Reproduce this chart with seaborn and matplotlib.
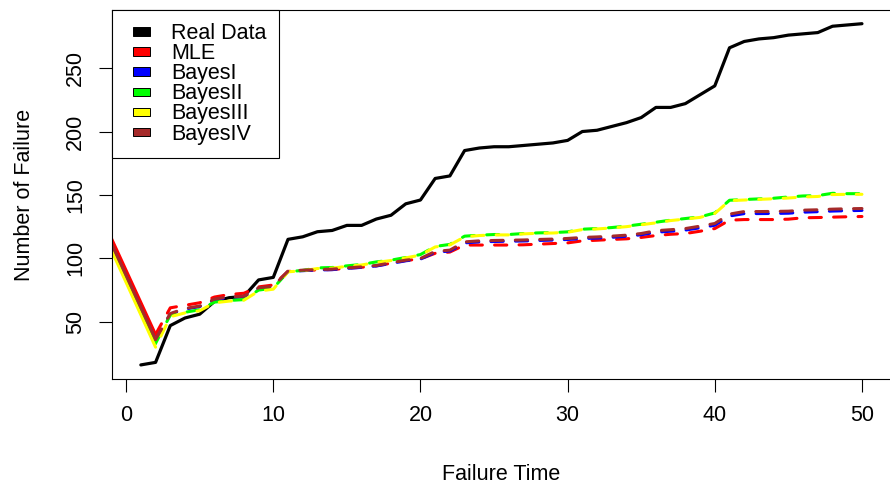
import matplotlib
matplotlib.use("Agg")
import matplotlib.pyplot as plt
import numpy as np
import pandas as pd
import seaborn as sns
from matplotlib.patches import Patch, Rectangle
from matplotlib.legend_handler import HandlerPatch

# ---------------- data ----------------
time = list(range(1, 51))
real_data = [16, 18, 47, 53, 56, 66, 69, 70, 83, 85,
             115, 117, 121, 122, 126, 126, 131, 134, 143, 146,
             163, 165, 185, 187, 188, 188, 189, 190, 191, 193,
             200, 201, 204, 207, 211, 219, 219, 222, 229, 236,
             266, 271, 273, 274, 276, 277, 278, 283, 284, 285]

model_time = [-2] + list(range(2, 51))
mle = [141, 40, 61, 63, 65, 69.5, 71.5, 72.5, 77.5, 79,
       89.7, 90.4, 90.9, 91.2, 92.2, 93, 94.1, 96.2, 98.3, 99.6,
       104, 105, 110.5, 110.5, 110.5, 110.5, 110.7, 111.2, 111.7, 112.2,
       113.8, 114.3, 114.9, 115.4, 116.5, 118, 119, 119.6, 121.4, 123.5,
       130.1, 130.6, 130.6, 130.6, 130.9, 132, 132.2, 132.5, 132.8, 133]
bayes1 = [136, 35.5, 56, 60, 62, 67.4, 69.2, 69.7, 76.3, 77.5,
          89.6, 90.3, 90.8, 91.1, 92.1, 92.9, 94, 96, 98.1, 99.4,
          104.8, 105.8, 112.2, 113, 113.3, 113.5, 113.7, 114.1, 114.4, 114.9,
          115.6, 116, 116.6, 117.4, 118.6, 120.6, 121.4, 122.3, 124.1, 126.1,
          133.4, 135.3, 135.3, 135.4, 135.6, 136.4, 136.8, 137.3, 137.6, 137.8]
bayes2 = [133, 33, 55.3, 57.5, 59.5, 65.5, 66.8, 67.5, 75, 76.5,
          89.5, 90.5, 92.5, 92.8, 94.1, 95.2, 97.2, 98.6, 100.7, 103,
          109.4, 111, 117.5, 118.3, 118.8, 118.8, 119.6, 120.1, 120.3, 120.9,
          123, 123.5, 124.3, 125.4, 126.9, 128.5, 130.1, 131.4, 132.7, 135.8,
          145.8, 146.4, 146.9, 147.4, 148.4, 149.2, 149.5, 151.3, 151, 151]
bayes3 = [132, 30, 54, 57, 58.7, 65, 66.3, 67, 74.2, 75.7,
          89.4, 90.2, 92, 92.3, 93.7, 94.8, 96.8, 98.3, 100.4, 102.6,
          109, 110.6, 117, 118, 118.5, 118.5, 119.3, 119.8, 120, 120.6,
          122.7, 123.2, 124, 125, 126.5, 128, 129.8, 131, 132.3, 135.4,
          145.5, 146, 146.5, 147, 147.6, 148.4, 148.8, 150.3, 150.5, 150.5]
bayes4 = [137, 36, 56.5, 60.5, 62.4, 67.9, 69.7, 70.2, 76.8, 78,
          90, 90.7, 91.2, 91.5, 92.5, 93.3, 94.4, 96.5, 98.6, 99.9,
          105.5, 106.5, 113, 113.8, 114.1, 114.3, 114.5, 114.9, 115.2, 115.7,
          116.5, 116.9, 117.5, 118.3, 119.6, 121.8, 122.6, 123.5, 125.4, 127.5,
          134.9, 136.9, 136.9, 137, 137.2, 138, 138.3, 138.8, 139.1, 139.3]

legend_labels = ["Real Data", "MLE", "BayesI", "BayesII", "BayesIII", "BayesIV"]
colors = ["black", "#FF0000", "#0000FF", "#00FF00", "#FFFF00", "#A52A2A"]
x_ticks = [0, 10, 20, 30, 40, 50]
y_ticks = [50, 100, 150, 200, 250]

# ---------------- figure ----------------
sns.set_style("white")
plt.rcParams["font.family"] = ["Liberation Sans", "DejaVu Sans"]
plt.rcParams["text.color"] = "black"
plt.rcParams["axes.labelcolor"] = "black"
plt.rcParams["xtick.color"] = "black"
plt.rcParams["ytick.color"] = "black"

W, H = 890, 488
fig = plt.figure(figsize=(W / 100, H / 100), dpi=100)
ax = fig.add_axes([112 / W, (H - 379) / H, 778.8 / W, 369 / H])

real_df = pd.DataFrame({"t": time, "v": real_data})
sns.lineplot(data=real_df, x="t", y="v", ax=ax, color="black", lw=2.3,
             solid_joinstyle="round", solid_capstyle="round")

models = [mle, bayes1, bayes2, bayes3, bayes4]
offsets = [0, 0, 0, 4, 0]
for vals, col, off in zip(models, colors[1:], offsets):
    df = pd.DataFrame({"t": model_time, "v": vals})
    sns.lineplot(data=df.iloc[:2], x="t", y="v", ax=ax, color=col, lw=2.2,
                 solid_capstyle="round")
    sns.lineplot(data=df.iloc[1:], x="t", y="v", ax=ax, color=col, lw=2.2,
                 linestyle=(off, (4, 4)), dash_capstyle="round")

ax.set_xlim(-0.96, 51.96)
ax.set_ylim(4.9, 295.8)
ax.set_xticks(x_ticks)
ax.set_yticks(y_ticks)
ax.tick_params(axis="both", direction="out", length=9.4, width=0.8,
               labelsize=15.5, color="black", labelcolor="black", pad=9.3,
               bottom=True, left=True)
ax.tick_params(axis="y", labelrotation=90)
for lbl in ax.get_yticklabels():
    lbl.set_va("center")

for side in ["left", "bottom", "top", "right"]:
    ax.spines[side].set_visible(True)
    ax.spines[side].set_color("black")
    ax.spines[side].set_linewidth(0.8)

ax.set_xlabel("Failure Time", fontsize=15.5, color="black")
ax.set_ylabel("Number of Failure", fontsize=15.5, color="black")
ax.xaxis.set_label_coords(0.5, (379 - 474) / 369)
ax.yaxis.set_label_coords((25 - 112) / 778.8, 0.5)
ax.xaxis.label.set_va("center")
ax.yaxis.label.set_va("center")


class SquareHandler(HandlerPatch):
    def create_artists(self, legend, orig_handle, xdescent, ydescent,
                       width, height, fontsize, trans):
        sw, sh = 12.2, 6.0
        p = Rectangle((-xdescent + width - sw, -ydescent + (height - sh) / 2),
                      sw, sh, facecolor=orig_handle.get_facecolor(),
                      edgecolor="black", linewidth=0.7)
        p.set_transform(trans)
        return [p]


handles = [Patch(facecolor=c, edgecolor="black") for c in colors]
leg = ax.legend(handles, legend_labels, loc="upper left",
                bbox_to_anchor=(0, 1), borderaxespad=0, fontsize=15.5,
                fancybox=False, framealpha=1, edgecolor="black",
                borderpad=0.6, handlelength=1.15, handleheight=0.7,
                handletextpad=0.99, labelspacing=-0.04,
                handler_map={Patch: SquareHandler()})
leg.get_frame().set_linewidth(0.8)
for t in leg.get_texts():
    t.set_color("black")

fig.savefig("out.png", dpi=100)
